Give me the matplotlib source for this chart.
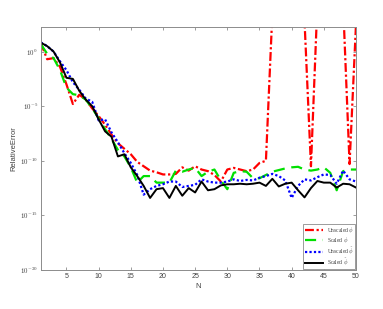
import numpy as np
import matplotlib
matplotlib.use("Agg")
import matplotlib.pyplot as plt

N = list(range(1, 51))

# log10 of relative error
unscaled_phi_log = [0.8, -0.7, -0.6, -1.4, -3.0, -4.8, -3.95, -4.4, -5.2, -5.9,
                    -6.7, -7.6, -8.4, -8.9, -9.4, -10.1, -10.5, -10.9, -11.05, -11.25,
                    -11.25, -11.2, -10.6, -10.9, -10.5, -10.8, -10.95, -11.3, -11.9, -10.8,
                    -10.65, -10.8, -10.95, -10.8, -10.2, -10.0, 3.5, 6.0, 7.0, 6.0,
                    5.0, 2.8, -10.5, 4.4, 6.0, 6.0, 5.0, 4.3, -10.3, 2.5]
scaled_phi_log = [0.7, -0.2, -0.6, -1.7, -3.3, -3.9, -4.0, -4.4, -5.2, -6.1,
                  -7.1, -8.0, -9.0, -9.6, -10.6, -12.0, -11.4, -11.4, -12.0, -12.0,
                  -12.0, -10.9, -11.0, -10.8, -10.65, -11.4, -11.0, -10.8, -11.8, -12.6,
                  -11.1, -10.95, -11.0, -11.6, -11.6, -11.3, -11.0, -10.85, -10.7, -10.6,
                  -10.55, -10.8, -10.9, -10.8, -10.6, -11.1, -12.7, -10.95, -10.8, -10.8]
unscaled_phit_log = [0.85, 0.5, 0.0, -0.9, -1.7, -2.8, -3.5, -4.3, -4.6, -6.3,
                     -6.2, -7.4, -8.3, -9.3, -10.2, -11.3, -13.1, -12.6, -12.3, -12.15,
                     -11.9, -11.9, -12.4, -12.3, -12.2, -11.7, -11.9, -12.0, -12.0, -11.9,
                     -11.7, -11.85, -11.75, -11.8, -11.55, -11.4, -11.2, -11.4, -11.8, -13.4,
                     -12.3, -11.7, -11.8, -11.5, -11.25, -11.3, -12.1, -10.9, -11.7, -11.9]
scaled_phit_log = [0.82, 0.5, 0.0, -1.0, -2.4, -2.5, -3.6, -4.4, -5.0, -6.2,
                   -7.3, -7.8, -9.6, -9.4, -10.6, -11.4, -12.3, -13.4, -12.6, -12.5,
                   -13.4, -12.3, -13.2, -12.5, -12.9, -11.9, -12.7, -12.6, -12.25, -12.15,
                   -12.15, -12.1, -12.15, -12.1, -12.0, -12.3, -11.65, -12.35, -12.1, -12.0,
                   -12.7, -13.35, -12.5, -11.85, -12.0, -12.0, -12.45, -12.1, -12.15, -12.45]

xticks = [5, 10, 15, 20, 25, 30, 35, 40, 45, 50]
yticks = [1e-20, 1e-15, 1e-10, 1e-5, 1e0]
ytick_labels = [r'$10^{-20}$', r'$10^{-15}$', r'$10^{-10}$', r'$10^{-5}$', r'$10^{0}$']
legend_labels = [r'Unscaled $\phi$', r'Scaled $\phi$', r'Unscaled $\tilde{\phi}$', r'Scaled $\tilde{\phi}$']

plt.rcParams['mathtext.fontset'] = 'cm'
plt.rcParams['font.family'] = ['Liberation Sans', 'DejaVu Sans']

textc = '#404040'
spinec = '#8c8c8c'

fig = plt.figure(figsize=(3.83, 3.09), dpi=100)
ax = fig.add_axes([0.1063, 0.1262, 0.8232, 0.7864])

series = [unscaled_phi_log, scaled_phi_log, unscaled_phit_log, scaled_phit_log]
styles = [dict(color='#ff0000', ls=(0, (4, 1.2, 1, 1.2)), lw=1.6),
          dict(color='#00e000', ls=(0, (5, 3)), lw=1.6),
          dict(color='#0000ff', ls=(0, (1, 1)), lw=1.6),
          dict(color='#000000', ls='-', lw=1.4)]
handles = []
for s, st in zip(series, styles):
    h, = ax.plot(N, 10.0 ** np.array(s), **st)
    handles.append(h)

ax.set_yscale('log')
ax.set_xlim(1, 50)
ax.set_ylim(1e-20, 10 ** 2.25)
ax.set_xticks(xticks)
ax.set_yticks(yticks)
ax.set_yticklabels(ytick_labels)
ax.minorticks_off()
ax.tick_params(direction='in', top=True, right=True, length=2.5, width=0.6,
               labelsize=5, colors=spinec, labelcolor=textc, pad=2)
for lab in ax.get_yticklabels():
    lab.set_fontfamily(['DejaVu Sans'])
for sp in ax.spines.values():
    sp.set_color(spinec)
    sp.set_linewidth(0.7)
ax.set_xlabel('N', fontsize=5.5, color=textc, labelpad=2)
ax.set_ylabel('RelativeError', fontsize=5.5, color=textc, labelpad=2)

leg_font = {'family': ['Liberation Serif', 'DejaVu Serif'], 'size': 4}
leg = ax.legend(handles, legend_labels, loc='lower right', prop=leg_font,
                frameon=True, fancybox=False, edgecolor=spinec, framealpha=1,
                handlelength=3.4, handletextpad=0.6, borderpad=0.25,
                labelspacing=0.05, borderaxespad=0.12)
leg.get_frame().set_linewidth(0.6)
for t in leg.get_texts():
    t.set_color(textc)

fig.savefig('out.png', dpi=100)
